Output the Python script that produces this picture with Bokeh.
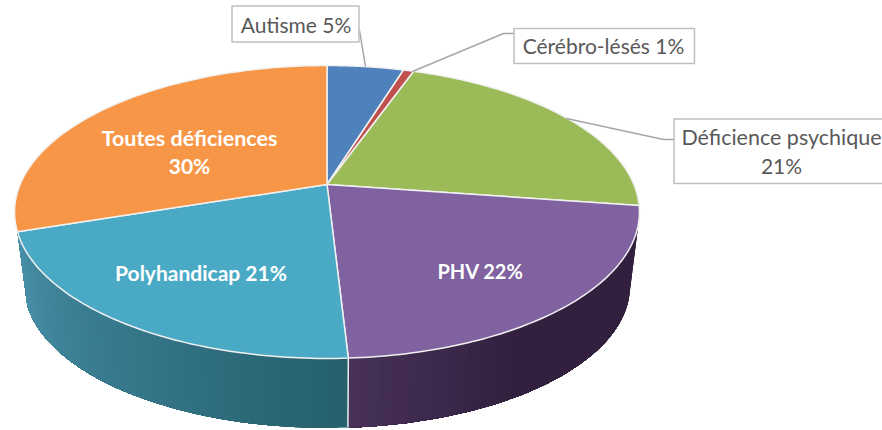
import numpy as np
from bokeh.plotting import figure
from bokeh.models import Range1d
from bokeh.core.properties import value
from bokeh.embed import file_html
from bokeh.resources import INLINE

categories = ["Autisme", "Cérébro-lésés", "Déficience psychique", "PHV", "Polyhandicap", "Toutes déficiences"]
shares = [4.75, 0.65, 21.9, 21.8, 20.8, 30.1]
printed = [5, 1, 21, 22, 21, 30]
top_colors = ["#4f81bd", "#c0504d", "#9bbb59", "#8062a0", "#4aaac5", "#f79646"]

W, H = 882, 430
AX, AY = 326.5, 184.0   # pie apex on the page
A, B, P = 306.9, 141.3, 0.1877  # perspective of the pie disc
VX, VY, S = 334.0, 2600.0, 0.969  # vanishing point of the side wall


def rim(theta):
    u, v = np.sin(theta), np.cos(theta)
    d = 1 + P * v
    return AX + A * u / d, AY - B * v / d


def lower(x, y):
    return VX + (x - VX) * S, VY + (y - VY) * S


def mix(c0, c1, t):
    a = np.array([int(c0[i:i + 2], 16) for i in (1, 3, 5)], float)
    b = np.array([int(c1[i:i + 2], 16) for i in (1, 3, 5)], float)
    r = a + (b - a) * t
    return "#%02x%02x%02x" % tuple(int(round(q)) for q in r)


p = figure(width=W, height=H, x_range=Range1d(0, W), y_range=Range1d(H, 0),
           output_backend="svg", toolbar_location=None, min_border=0,
           outline_line_color=None, background_fill_color="white",
           border_fill_color="white")
p.axis.visible = False
p.grid.visible = False

edges = 2 * np.pi * np.concatenate([[0], np.cumsum(shares)]) / sum(shares)

# side wall (only the parts that face the viewer)
right_sil = np.arccos(-P)
wall_spec = [
    (3, max(edges[3], right_sil), edges[4], "#33203f", "#483259"),
    (4, edges[4], edges[5], "#25606c", "#478fa8"),
]
for idx, a0, a1, c0, c1 in wall_spec:
    n = 48
    ts = np.linspace(a0, a1, n + 1)
    xs, ys, cols = [], [], []
    for k in range(n):
        # each band runs to the end of the slice; the next band paints over it
        band = ts[k:]
        rx, ry = rim(band)
        lx, ly = lower(rx, ry)
        xs.append(np.concatenate([rx, lx[::-1]]))
        ys.append(np.concatenate([ry, ly[::-1]]))
        if idx == 3:
            x0, _ = rim(ts[k])
            t = float(np.clip((520 - x0) / (520 - 350), 0, 1))
        else:
            t = k / (n - 1)
        cols.append(mix(c0, c1, t))
    p.patches(xs, ys, fill_color=cols, line_color=None)

# wall seam between PHV and Polyhandicap
sx, sy = rim(edges[4])
lx, ly = lower(sx, sy)
p.line([sx, lx], [sy, ly], line_color="#e8eef0", line_width=1.5)

# top face
xs, ys = [], []
for i in range(len(shares)):
    ts = np.linspace(edges[i], edges[i + 1], 80)
    rx, ry = rim(ts)
    xs.append(np.concatenate([[AX], rx]))
    ys.append(np.concatenate([[AY], ry]))
p.patches(xs, ys, fill_color=top_colors, line_color="#f1f1f1", line_width=1.5, line_join="round")

# leader lines
leader = "#a6a6a6"
p.line([359, 365], [30, 66], line_color=leader, line_width=1.5)
p.line([514, 503, 412], [33, 33, 71], line_color=leader, line_width=1.5)
p.line([674, 663, 566], [139, 139, 118], line_color=leader, line_width=1.5)

# label boxes
p.quad(left=[231.5, 513.5, 673.5], right=[358.5, 694, 900], top=[5.5, 28, 118.5], bottom=[41.5, 63, 183],
       fill_color="white", line_color="#bfbfbf", line_width=1.5)

grey = "#595959"
font = value("Lato")
size = "21px"
p.text([295.5], [24], text=[f"{categories[0]} {printed[0]}%"], text_font=font, text_font_size=size,
       text_color=grey, text_align="center", text_baseline="middle")
p.text([603], [45], text=[f"{categories[1]} {printed[1]}%"], text_font=font, text_font_size=size,
       text_color=grey, text_align="center", text_baseline="middle")
p.text([781], [136.5], text=[categories[2]], text_font=font, text_font_size="21.5px",
       text_color=grey, text_align="center", text_baseline="middle")
p.text([781], [165], text=[f"{printed[2]}%"], text_font=font, text_font_size=size,
       text_color=grey, text_align="center", text_baseline="middle")

p.text([480], [270], text=[f"{categories[3]} {printed[3]}%"], text_font=font, text_font_size="20px",
       text_font_style="bold", text_color="white", text_align="center", text_baseline="middle")
p.text([200.5], [272], text=[f"{categories[4]} {printed[4]}%"], text_font=font, text_font_size=size,
       text_font_style="bold", text_color="white", text_align="center", text_baseline="middle")
p.text([189], [137], text=[categories[5]], text_font=font, text_font_size="21.5px",
       text_font_style="bold", text_color="white", text_align="center", text_baseline="middle")
p.text([189], [165], text=[f"{printed[5]}%"], text_font=font, text_font_size=size,
       text_font_style="bold", text_color="white", text_align="center", text_baseline="middle")

open("out.html", "w").write(file_html(p, INLINE))
